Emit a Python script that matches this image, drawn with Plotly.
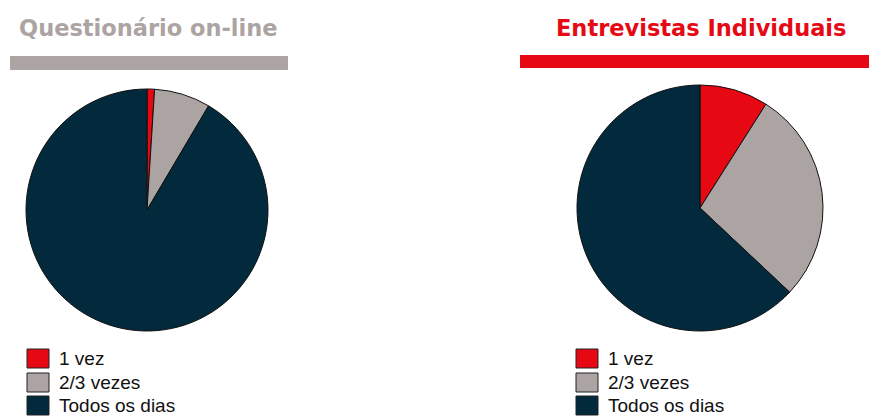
import plotly.graph_objects as go

# Frequency categories and their shares (%) for each survey method
categories = ["1 vez", "2/3 vezes", "Todos os dias"]
online_values = [1.0, 7.5, 91.5]
interview_values = [9.0, 28.0, 63.0]
slice_colors = ["#e60914", "#aca4a2", "#03293d"]

panel_titles = ["Questionário on-line", "Entrevistas Individuais"]
title_colors = ["#aca4a2", "#e60914"]

W, H = 869, 416

fig = go.Figure()

def px_x(v):
    return v / W

def px_y(v):
    return 1 - v / H

# Pie charts (circle bounds in pixels: left, top, size)
pie_boxes = [(26, 89, 242), (577, 85, 246)]
for values, (lx, ty, size) in zip([online_values, interview_values], pie_boxes):
    fig.add_trace(go.Pie(
        labels=categories,
        values=values,
        sort=False,
        direction="clockwise",
        rotation=0,
        textinfo="none",
        hoverinfo="label+percent",
        marker=dict(colors=slice_colors, line=dict(color="#111111", width=1)),
        domain=dict(x=[px_x(lx), px_x(lx + size)], y=[px_y(ty + size), px_y(ty)]),
        showlegend=False,
    ))

shapes = []
annotations = []

# Titles and colored underline bars
title_centers = [148, 701]
bars = [(10, 56, 288, 70), (520, 55, 869, 68)]
for title, color, cx, (x0, y0, x1, y1) in zip(panel_titles, title_colors, title_centers, bars):
    annotations.append(dict(
        text=title, x=px_x(cx), y=px_y(28), xref="paper", yref="paper",
        xanchor="center", yanchor="middle", showarrow=False,
        font=dict(family="DejaVu Sans", size=22.5, color=color, weight="bold"),
    ))
    shapes.append(dict(type="rect", xref="paper", yref="paper",
                       x0=px_x(x0), x1=px_x(x1), y0=px_y(y1), y1=px_y(y0),
                       fillcolor=color, line=dict(width=0)))

# Legends under each pie
legend_lefts = [27, 576]
row_tops = [349, 373, 396]
for lx in legend_lefts:
    for label, color, top in zip(categories, slice_colors, row_tops):
        shapes.append(dict(type="rect", xref="paper", yref="paper",
                           x0=px_x(lx), x1=px_x(lx + 22), y0=px_y(top + 19), y1=px_y(top),
                           fillcolor=color, line=dict(color="#222222", width=1)))
        annotations.append(dict(
            text=label, x=px_x(lx + 30), y=px_y(top + 9), xref="paper", yref="paper",
            xanchor="left", yanchor="middle", showarrow=False,
            font=dict(family="Liberation Sans, Arial", size=19, color="#111111"),
        ))

fig.update_layout(
    width=W, height=H,
    margin=dict(l=0, r=0, t=0, b=0),
    paper_bgcolor="white", plot_bgcolor="white",
    shapes=shapes, annotations=annotations,
)

fig.write_html("out.html")
